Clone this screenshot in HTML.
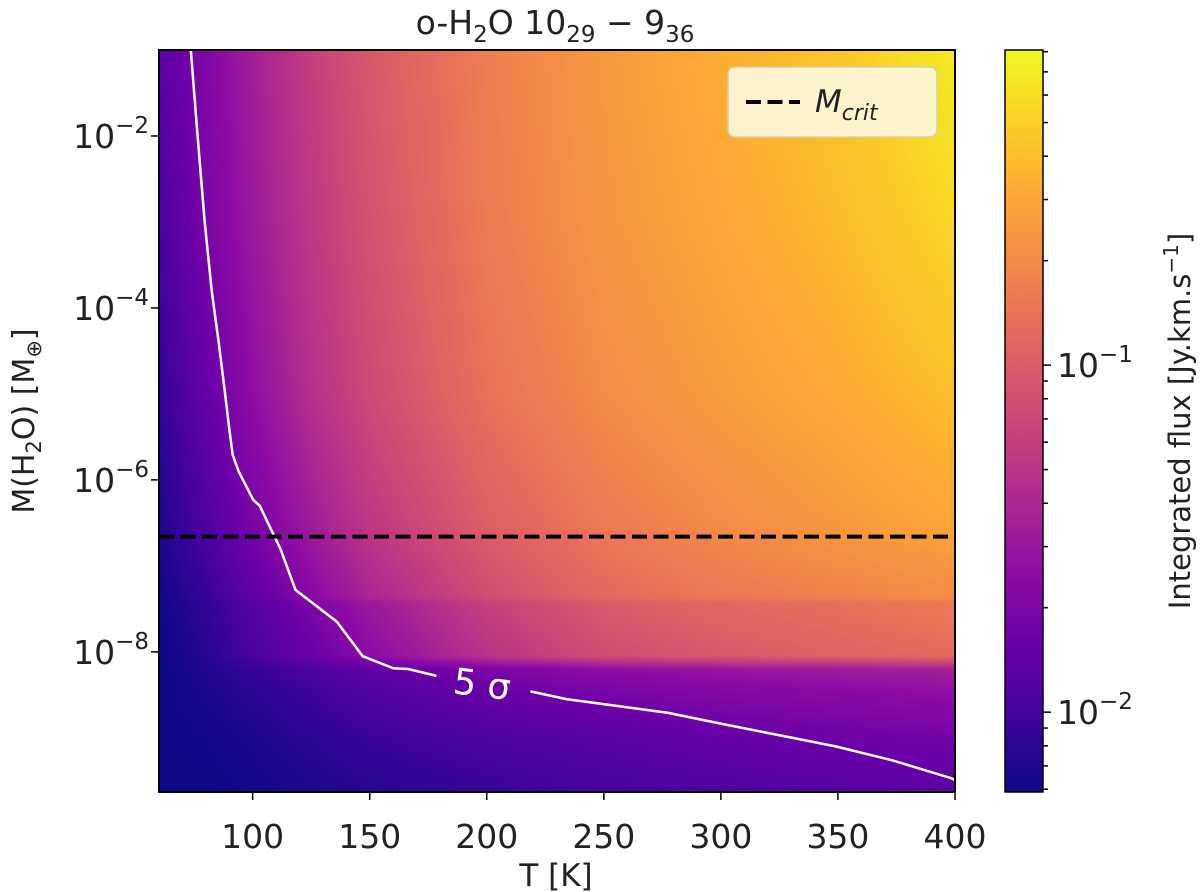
<!DOCTYPE html>
<html><head><meta charset="utf-8"><style>
html,body{margin:0;padding:0;background:#fff;width:1200px;height:892px;overflow:hidden}
svg text{font-family:"DejaVu Sans","Liberation Sans",sans-serif;fill:#222}
#hm{position:absolute;left:159px;top:50px}
</style></head><body>
<canvas id="hm" width="796" height="742"></canvas>
<svg id="s" width="1200" height="892" style="position:absolute;left:0;top:0"></svg>
<script>
// ---- data ----
const tempCols = [60,80,100,125,150,200,250,300,350,400];
const logMassRows = [-1,-3,-5,-6.5,-7.38,-7.42,-8.05,-8.2,-8.44,-9,-9.63];
// flux as fraction of colour scale (log10 flux = cbMin + frac*(cbMax-cbMin))
const fluxFrac = [
 [0.16,0.26,0.36,0.47,0.56,0.68,0.76,0.82,0.88,0.97],
 [0.12,0.24,0.34,0.45,0.54,0.67,0.75,0.8,0.85,0.92],
 [0.07,0.19,0.3,0.42,0.51,0.64,0.72,0.77,0.81,0.86],
 [0.03,0.13,0.24,0.35,0.45,0.58,0.67,0.72,0.76,0.8],
 [0.01,0.08,0.17,0.28,0.38,0.52,0.61,0.66,0.69,0.72],
 [0.01,0.07,0.15,0.25,0.34,0.48,0.57,0.61,0.64,0.67],
 [0.0,0.05,0.12,0.2,0.29,0.43,0.52,0.56,0.59,0.62],
 [0.0,0.04,0.08,0.13,0.18,0.25,0.3,0.33,0.35,0.37],
 [0,0.03,0.06,0.1,0.14,0.2,0.24,0.27,0.29,0.31],
 [0,0.01,0.03,0.06,0.09,0.13,0.16,0.19,0.21,0.23],
 [0,0,0.01,0.03,0.05,0.08,0.11,0.13,0.15,0.17]];
const contourT = [73.6,76.5,79.5,82.5,85.5,88,90,91.5,94,100.2,103,112,118.3,136,147,160,166.4,178.5];
const contourLogM = [-1,-2,-3,-3.8,-4.4,-4.95,-5.4,-5.71,-5.9,-6.23,-6.3,-6.81,-7.28,-7.65,-8.05,-8.19,-8.2,-8.28];
const contour2T = [218.7,234,277.5,301,349,373,398.4,400];
const contour2LogM = [-8.46,-8.55,-8.71,-8.84,-9.10,-9.26,-9.47,-9.49];
const mCritLog = -6.66;
const xTicks = [100,150,200,250,300,350,400];
const yTicks = [-2,-4,-6,-8];
const cbMinLog = -2.23, cbMaxLog = -0.092;

// ---- axes ----
const L=159,R=955,T0=50,B=792;
const xDom=[60,400], yDom=[-1,-9.63];
const X=t=>L+(t-xDom[0])/(xDom[1]-xDom[0])*(R-L);
const Y=m=>T0+(m-yDom[0])/(yDom[1]-yDom[0])*(B-T0);
const cbL=1005,cbR=1043;
const CY=lf=>B-(lf-cbMinLog)/(cbMaxLog-cbMinLog)*(B-T0);

const stops=["#0d0887","#41049d","#6a00a8","#8f0da4","#b12a90","#cc4778","#e16462","#f2844b","#fca636","#fcce25","#f0f921"].map(h=>[parseInt(h.slice(1,3),16),parseInt(h.slice(3,5),16),parseInt(h.slice(5,7),16)]);
function plasma(f){f=Math.max(0,Math.min(1,f));const p=f*10,i=Math.min(9,Math.floor(p)),r=p-i;return stops[i].map((c,k)=>c+(stops[i+1][k]-c)*r);}
function interp(arr,v){
  for(let i=0;i<arr.length-1;i++){const a=arr[i],b=arr[i+1];if((v-a)*(v-b)<=0){return [i,(v-a)/(b-a)];}}
  return v<arr[0]===arr[0]<arr[1]?[0,0]:[arr.length-2,1];
}
const cv=document.getElementById('hm'),ctx=cv.getContext('2d'),W=cv.width,H=cv.height,img=ctx.createImageData(W,H);
for(let py=0;py<H;py++){const m=yDom[0]+(py+0.5)/H*(yDom[1]-yDom[0]);const [ri,rf]=interp(logMassRows,m);
 for(let px=0;px<W;px++){const t=xDom[0]+(px+0.5)/W*(xDom[1]-xDom[0]);const [ci,cf]=interp(tempCols,t);
  const a=fluxFrac[ri][ci]*(1-cf)+fluxFrac[ri][ci+1]*cf,b=fluxFrac[ri+1][ci]*(1-cf)+fluxFrac[ri+1][ci+1]*cf;
  const c=plasma(a*(1-rf)+b*rf),o=(py*W+px)*4;img.data[o]=c[0];img.data[o+1]=c[1];img.data[o+2]=c[2];img.data[o+3]=255;}}
ctx.putImageData(img,0,0);

const s=document.getElementById('s');const NS="http://www.w3.org/2000/svg";
function el(tag,attrs,parent){const e=document.createElementNS(NS,tag);for(const k in attrs)e.setAttribute(k,attrs[k]);(parent||s).appendChild(e);return e;}

const defs=el('defs',{});const lg=el('linearGradient',{id:'cbg',x1:0,y1:1,x2:0,y2:0},defs);
for(let i=0;i<=10;i++){el('stop',{offset:i/10,'stop-color':`rgb(${stops[i].join(',')})`},lg);}
const cb=el('rect',{x:cbL,y:T0,width:cbR-cbL,height:B-T0,fill:'url(#cbg)',stroke:'#000','stroke-width':1.5});



function path(ts,ms){return ts.map((t,i)=>(i?'L':'M')+X(t).toFixed(1)+','+Y(ms[i]).toFixed(1)).join('');}
const c1=el('path',{d:path(contourT,contourLogM),fill:'none',stroke:'#fff','stroke-width':2.5,'stroke-linejoin':'round'});


const c2=el('path',{d:path(contour2T,contour2LogM),fill:'none',stroke:'#fff','stroke-width':2.5,'stroke-linejoin':'round'});


const cl=el('text',{x:X(198),y:Y(-8.37)+13,'font-size':36,'text-anchor':'middle',transform:`rotate(7 ${X(198)} ${Y(-8.37)})`,style:'fill:#fff'});
cl.textContent='5 σ';



const ml=el('line',{x1:L,x2:R,y1:Y(mCritLog),y2:Y(mCritLog),stroke:'#000','stroke-width':4,'stroke-dasharray':'15,6.5'});



const fr=el('rect',{x:L,y:T0,width:R-L,height:B-T0,fill:'none',stroke:'#000','stroke-width':2});



xTicks.forEach(v=>{el('line',{x1:X(v),x2:X(v),y1:B,y2:B+8,stroke:'#000','stroke-width':1.5});
 const t=el('text',{x:X(v),y:B+56,'font-size':33,'text-anchor':'middle'});t.textContent=v;
 
 });
yTicks.forEach(v=>{el('line',{x1:L-8,x2:L,y1:Y(v),y2:Y(v),stroke:'#000','stroke-width':1.5});
 const t=el('text',{x:L-10,y:Y(v)+12,'font-size':33,'text-anchor':'end'});
 t.innerHTML=`10<tspan dy="-15" font-size="23">−${-v}</tspan>`;
 
 });
for(let d=-3;d<=0;d++){for(let k=1;k<10;k++){const lf=d+Math.log10(k);if(lf<cbMinLog||lf>cbMaxLog)continue;
 const major=k===1;el('line',{x1:cbR,x2:cbR+(major?8:5),y1:CY(lf),y2:CY(lf),stroke:'#000','stroke-width':1.5});
 if(major){const t=el('text',{x:cbR+14,y:CY(lf)+12,'font-size':33});t.innerHTML=`10<tspan dy="-15" font-size="23">−${-d}</tspan>`;
  
  }}}
</script>
<svg width="1200" height="892" style="position:absolute;left:0;top:0;pointer-events:none">
<text x="555" y="34" font-size="33" text-anchor="middle" font-family="DejaVu Sans,sans-serif" fill="#222">o-H<tspan dy="8" font-size="23">2</tspan><tspan dy="-8">O 10</tspan><tspan dy="8" font-size="23">29</tspan><tspan dy="-8"> − 9</tspan><tspan dy="8" font-size="23">36</tspan></text>
<text x="556" y="886" font-size="31" text-anchor="middle" font-family="DejaVu Sans,sans-serif" fill="#222">T [K]</text>
<text transform="translate(34 421) rotate(-90)" font-size="30" text-anchor="middle" font-family="DejaVu Sans,sans-serif" fill="#222">M(H<tspan dy="7" font-size="21">2</tspan><tspan dy="-7">O)  [M</tspan><tspan dy="7" font-size="21">⊕</tspan><tspan dy="-7">]</tspan></text>
<text transform="translate(1190 421) rotate(-90)" font-size="29" text-anchor="middle" font-family="DejaVu Sans,sans-serif" fill="#222">Integrated flux [Jy.km.s<tspan dy="-12" font-size="20">−1</tspan><tspan dy="12">]</tspan></text>
<g>
<rect x="728" y="67" width="209" height="70" rx="7" fill="#fdf7dc" fill-opacity="0.92" stroke="#d8d0a8" stroke-width="1.5"/>
<line x1="746" x2="800" y1="102" y2="102" stroke="#000" stroke-width="4" stroke-dasharray="15,6.5"/>
<text x="815" y="112" font-size="31" font-style="italic" font-family="DejaVu Sans,sans-serif" fill="#222">M<tspan dy="8" font-size="22">crit</tspan></text>
</g>
</svg>
</body></html>
